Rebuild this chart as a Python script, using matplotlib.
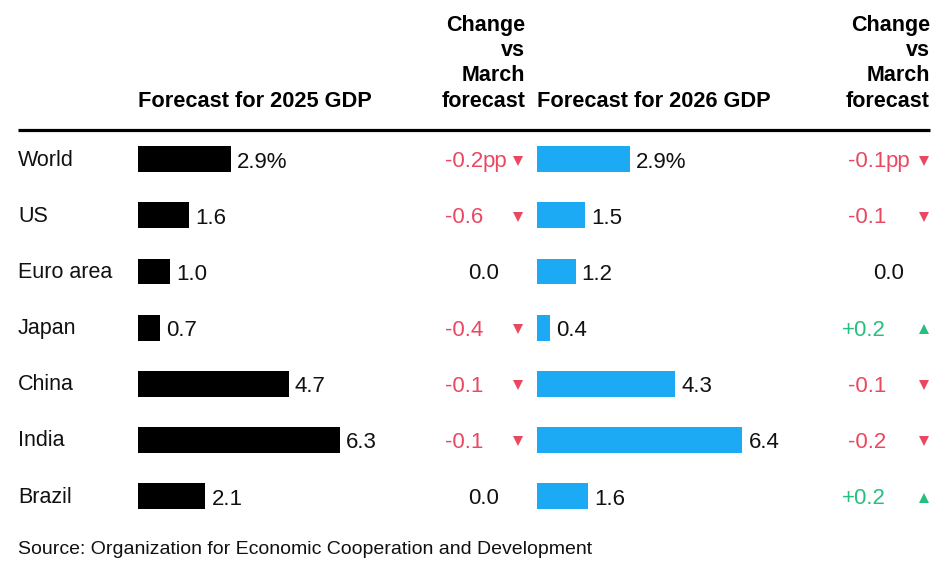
import matplotlib
matplotlib.use("Agg")
import matplotlib.pyplot as plt
from matplotlib.transforms import blended_transform_factory as btf

# ---- data ----
countries = ["World", "US", "Euro area", "Japan", "China", "India", "Brazil"]
gdp_2025 = [2.9, 1.6, 1.0, 0.7, 4.7, 6.3, 2.1]
gdp_2026 = [2.9, 1.5, 1.2, 0.4, 4.3, 6.4, 1.6]
chg_2025 = [-0.2, -0.6, 0.0, -0.4, -0.1, -0.1, 0.0]
chg_2026 = [-0.1, -0.1, 0.0, 0.2, -0.1, -0.2, 0.2]
header_gdp = ["Forecast for 2025 GDP", "Forecast for 2026 GDP"]
header_chg = ["Change", "vs", "March", "forecast"]
source = "Source: Organization for Economic Cooperation and Development"

# ---- style ----
FONT = "Liberation Sans"
plt.rcParams["font.family"] = [FONT, "DejaVu Sans"]
BLACK = "#000000"
TXT = "#111111"
BLUE = "#1daaf5"
RED = "#ea4760"
GREEN = "#27bf7e"
VAL_FS = 16

W, H = 947, 567
fig = plt.figure(figsize=(W / 100, H / 100), dpi=100)
lay = fig.add_axes([0, 0, 1, 1])
lay.set_xlim(0, W)
lay.set_ylim(H, 0)
lay.axis("off")

PX_PER_UNIT = 32.1
row_top, row_h = 131.0, 56.17
n = len(countries)


def bar_axes(left_px, width_px):
    ax = fig.add_axes([left_px / W, (H - (row_top + n * row_h)) / H,
                       width_px / W, n * row_h / H])
    ax.set_xlim(0, width_px / PX_PER_UNIT)
    ax.set_ylim(n - 0.5, -0.5)
    ax.axis("off")
    return ax


ax1 = bar_axes(138, 290)
ax2 = bar_axes(537, 290)
rows = list(range(n))
ax1.barh(rows, gdp_2025, height=0.46, color=BLACK)
ax2.barh(rows, gdp_2026, height=0.46, color=BLUE)

trans = btf(lay.transData, ax1.transData)
px = 1.0 / row_h  # one pixel in row units

# country labels
for i, c in enumerate(countries):
    lay.text(18, i + 6.5 * px, c, transform=trans, fontsize=15.5,
             color=TXT, ha="left", va="baseline")

# value labels
for ax, vals in ((ax1, gdp_2025), (ax2, gdp_2026)):
    for i, v in enumerate(vals):
        s = f"{v:.1f}%" if i == 0 else f"{v:.1f}"
        ax.annotate(s, xy=(v, i + 8.5 * px), xytext=(6, 0),
                    textcoords="offset pixels", fontsize=VAL_FS, color=TXT,
                    ha="left", va="baseline")


def fmt(v):
    return "0.0" if v == 0 else f"{v:+.1f}"


# change columns
for chg, x_num, x_zero, x_tri in ((chg_2025, 483, 499, 518),
                                  (chg_2026, 886, 904, 924)):
    for i, v in enumerate(chg):
        y = i + 8 * px
        if v == 0:
            lay.text(x_zero, y, fmt(v), transform=trans, fontsize=VAL_FS,
                     color=TXT, ha="right", va="baseline")
            continue
        col = RED if v < 0 else GREEN
        lay.text(x_num, y, fmt(v), transform=trans, fontsize=VAL_FS,
                 color=col, ha="right", va="baseline")
        if i == 0:
            lay.text(x_num, y, "pp", transform=trans, fontsize=VAL_FS,
                     color=col, ha="left", va="baseline")
        lay.plot([x_tri], [i + 1.5 * px], transform=trans,
                 marker="v" if v < 0 else "^", markersize=7.5,
                 color=col, markeredgewidth=0, linestyle="none")

# headers
for xh, label in ((138, header_gdp[0]), (537, header_gdp[1])):
    lay.text(xh, 107, label, fontsize=15.7, fontweight="bold", color=BLACK,
             ha="left", va="baseline")
for xr in (525, 930):
    for yb, line in zip((31, 56, 81, 107), header_chg):
        lay.text(xr, yb, line, fontsize=15.5, fontweight="bold", color=BLACK,
                 ha="right", va="baseline")

lay.plot([18, 930], [130, 130], color=BLACK, linewidth=2.3,
         solid_capstyle="butt")

lay.text(18, 554, source, fontsize=14.0, color=TXT, ha="left",
         va="baseline")

fig.savefig("out.png", dpi=100, facecolor="white")
